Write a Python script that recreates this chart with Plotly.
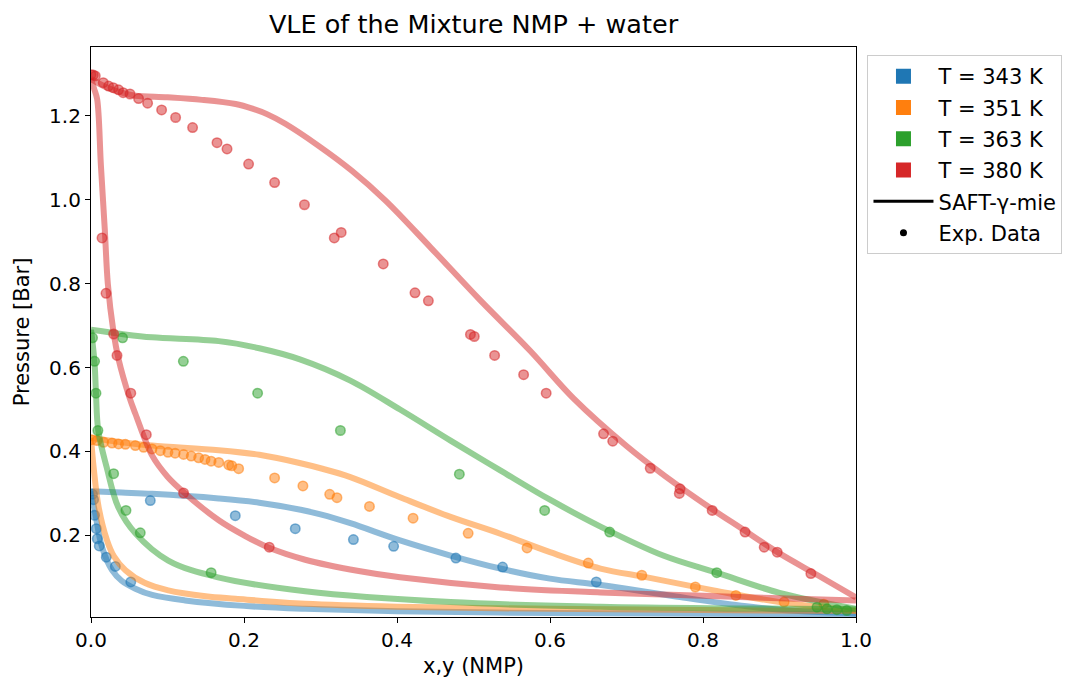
import plotly.graph_objects as go

# ---------------- data ----------------
temps = ["T = 343 K", "T = 351 K", "T = 363 K", "T = 380 K"]
colors = ["31,119,180", "255,127,14", "44,160,44", "214,39,40"]

# SAFT-gamma-mie model curves (bubble = upper branch, dew = lower branch)
blue_bub_x = [0, 0.04, 0.08, 0.167, 0.22, 0.274, 0.30, 0.339, 0.404, 0.47, 0.535, 0.6, 0.657, 0.7, 0.77, 0.857, 0.93, 1.0]
blue_bub_y = [0.305, 0.302, 0.299, 0.288, 0.278, 0.261, 0.25, 0.229, 0.188, 0.152, 0.121, 0.097, 0.084, 0.073, 0.053, 0.031, 0.019, 0.014]
blue_dew_x = [0, 0.002, 0.0056, 0.0144, 0.0275, 0.04, 0.058, 0.08, 0.123, 0.2, 0.28, 0.4, 0.6, 0.8, 1.0]
blue_dew_y = [0.305, 0.285, 0.252, 0.172, 0.117, 0.092, 0.073, 0.058, 0.045, 0.032, 0.025, 0.019, 0.015, 0.013, 0.012]

orange_bub_x = [0, 0.04, 0.08, 0.167, 0.22, 0.274, 0.30, 0.339, 0.404, 0.47, 0.535, 0.6, 0.666, 0.727, 0.814, 0.9, 1.0]
orange_bub_y = [0.432, 0.422, 0.414, 0.403, 0.392, 0.372, 0.36, 0.339, 0.291, 0.244, 0.204, 0.16, 0.121, 0.1, 0.069, 0.041, 0.021]
orange_dew_x = [0, 0.0015, 0.0034, 0.01, 0.021, 0.03, 0.045, 0.07, 0.101, 0.15, 0.189, 0.28, 0.4, 0.6, 0.8, 1.0]
orange_dew_y = [0.432, 0.40, 0.363, 0.267, 0.188, 0.15, 0.117, 0.087, 0.069, 0.055, 0.049, 0.037, 0.03, 0.025, 0.022, 0.02]

green_bub_x = [0, 0.04, 0.08, 0.167, 0.22, 0.274, 0.339, 0.404, 0.47, 0.535, 0.6, 0.666, 0.748, 0.818, 0.9, 1.0]
green_bub_y = [0.69, 0.68, 0.672, 0.663, 0.646, 0.619, 0.569, 0.500, 0.426, 0.355, 0.285, 0.221, 0.152, 0.111, 0.063, 0.025]
green_dew_x = [0, 0.002, 0.0047, 0.0065, 0.0095, 0.0204, 0.0357, 0.058, 0.101, 0.166, 0.28, 0.47, 0.666, 0.85, 1.0]
green_dew_y = [0.69, 0.66, 0.61, 0.54, 0.45, 0.363, 0.267, 0.205, 0.14, 0.10, 0.067, 0.041, 0.03, 0.026, 0.024]

red_bub_x = [0, 0.02, 0.04, 0.058, 0.1, 0.145, 0.189, 0.211, 0.23, 0.254, 0.297, 0.341, 0.385, 0.444, 0.509, 0.574, 0.631, 0.7, 0.75, 0.814, 0.85, 0.9, 0.95, 1.0]
red_bub_y = [1.288, 1.268, 1.255, 1.248, 1.244, 1.238, 1.228, 1.217, 1.204, 1.181, 1.129, 1.069, 0.998, 0.886, 0.76, 0.64, 0.526, 0.413, 0.342, 0.26, 0.217, 0.157, 0.105, 0.052]
red_dew_x = [0, 0.004, 0.008, 0.013, 0.018, 0.022, 0.029, 0.036, 0.05, 0.058, 0.08, 0.1, 0.123, 0.167, 0.2, 0.232, 0.28, 0.35, 0.404, 0.535, 0.666, 0.8, 0.9, 1.0]
red_dew_y = [1.288, 1.265, 1.24, 1.08, 0.93, 0.80, 0.69, 0.62, 0.53, 0.49, 0.39, 0.34, 0.30, 0.236, 0.20, 0.171, 0.142, 0.115, 0.10, 0.076, 0.064, 0.056, 0.05, 0.045]

# Experimental data
blue_x = [0.002, 0.0034, 0.0047, 0.0069, 0.0082, 0.0108, 0.02, 0.0318, 0.052, 0.0775, 0.1886, 0.267, 0.343, 0.3956, 0.477, 0.538, 0.6605]
blue_y = [0.298, 0.285, 0.248, 0.216, 0.192, 0.175, 0.148, 0.126, 0.089, 0.283, 0.247, 0.216, 0.190, 0.174, 0.146, 0.1245, 0.089]

orange_x = [0.001, 0.0078, 0.0165, 0.0275, 0.036, 0.045, 0.058, 0.0688, 0.0797, 0.0906, 0.1006, 0.110, 0.121, 0.131,
            0.1407, 0.149, 0.157, 0.167, 0.180, 0.184, 0.193, 0.240, 0.277, 0.312, 0.3215, 0.364, 0.421, 0.493, 0.570,
            0.650, 0.720, 0.790, 0.843, 0.906, 0.958]
orange_y = [0.428, 0.426, 0.422, 0.420, 0.418, 0.417, 0.414, 0.410, 0.406, 0.402, 0.398, 0.396, 0.393, 0.389,
            0.385, 0.381, 0.377, 0.374, 0.368, 0.366, 0.359, 0.337, 0.318, 0.298, 0.290, 0.269, 0.241, 0.205, 0.170,
            0.134, 0.105, 0.077, 0.057, 0.041, 0.036]

green_x = [0.002, 0.0047, 0.0065, 0.009, 0.0296, 0.0457, 0.0644, 0.157, 0.0413, 0.1207, 0.2178, 0.326, 0.4815,
           0.593, 0.678, 0.818, 0.949, 0.962, 0.975, 0.988]
green_y = [0.671, 0.615, 0.539, 0.45, 0.347, 0.2595, 0.206, 0.111, 0.671, 0.615, 0.539, 0.45, 0.346,
           0.2595, 0.208, 0.111, 0.029, 0.025, 0.023, 0.021]

red_x = [0.0, 0.003, 0.0056, 0.016, 0.023, 0.029, 0.036, 0.042, 0.051, 0.0622, 0.074, 0.0923, 0.1106, 0.1328,
         0.1647, 0.1778, 0.206, 0.240, 0.279, 0.318, 0.327, 0.382, 0.4235, 0.441, 0.496, 0.501, 0.5276, 0.5655,
         0.595, 0.670, 0.682, 0.731, 0.770, 0.769, 0.812, 0.855, 0.880, 0.897, 0.941,
         0.0144, 0.0196, 0.0296, 0.034, 0.052, 0.0723, 0.121, 0.233]
red_y = [1.298, 1.297, 1.295, 1.279, 1.271, 1.267, 1.262, 1.255, 1.252, 1.241, 1.230, 1.214, 1.196, 1.172,
         1.136, 1.121, 1.085, 1.041, 0.988, 0.909, 0.922, 0.847, 0.778, 0.759, 0.679, 0.674, 0.629, 0.583,
         0.539, 0.442, 0.4245, 0.360, 0.311, 0.300, 0.2595, 0.208, 0.172, 0.160, 0.109,
         0.909, 0.777, 0.680, 0.629, 0.539, 0.440, 0.301, 0.172]

curves = [
    (blue_bub_x, blue_bub_y, blue_dew_x, blue_dew_y),
    (orange_bub_x, orange_bub_y, orange_dew_x, orange_dew_y),
    (green_bub_x, green_bub_y, green_dew_x, green_dew_y),
    (red_bub_x, red_bub_y, red_dew_x, red_dew_y),
]
exps = [(blue_x, blue_y), (orange_x, orange_y), (green_x, green_y), (red_x, red_y)]

FONT = "DejaVu Sans"
fig = go.Figure()

for i, c in enumerate(colors):
    bx, by, dx, dy = curves[i]
    for xs, ys in ((bx, by), (dx, dy)):
        fig.add_trace(go.Scatter(x=xs, y=ys, mode="lines",
                                 line=dict(color=f"rgba({c},0.5)", width=6, shape="spline", smoothing=1.0),
                                 showlegend=False, hoverinfo="skip"))
    ex, ey = exps[i]
    fig.add_trace(go.Scatter(x=ex, y=ey, mode="markers",
                             marker=dict(size=9.5, color=f"rgba({c},0.5)",
                                         line=dict(color=f"rgba({c},0.55)", width=1.5)),
                             showlegend=False))

# legend entries
for i, c in enumerate(colors):
    fig.add_trace(go.Scatter(x=[None], y=[None], mode="markers", name=temps[i],
                             legendgroup=f"g{i}",
                             marker=dict(symbol="square", size=15, color=f"rgb({c})")))
fig.add_trace(go.Scatter(x=[None], y=[None], mode="lines", name="SAFT-γ-mie", legendgroup="g5",
                         line=dict(color="black", width=3)))
fig.add_trace(go.Scatter(x=[None], y=[None], mode="markers", name="Exp. Data", legendgroup="g6",
                         marker=dict(color="black", size=7)))

axis_common = dict(showline=True, linecolor="black", linewidth=1.2, mirror=True,
                   ticks="outside", ticklen=5, tickwidth=1.1, tickcolor="black",
                   showgrid=False, zeroline=False, tickformat=".1f", automargin=False,
                   tickfont=dict(family=FONT, size=20, color="black"))

fig.update_layout(
    width=1089, height=682,
    margin=dict(l=91, r=233, t=47, b=65, autoexpand=False),
    paper_bgcolor="white", plot_bgcolor="white",
    font=dict(family=FONT, size=20, color="black"),
    title=dict(text="VLE of the Mixture NMP + water", x=0.5, xref="paper",
               y=1 - 24 / 682, yref="container", yanchor="middle",
               font=dict(family=FONT, size=25.5, color="black")),
    xaxis=dict(range=[0, 1], tickvals=[0, 0.2, 0.4, 0.6, 0.8, 1.0],
               title=dict(text="x,y (NMP)", standoff=7, font=dict(family=FONT, size=21)),
               **axis_common),
    yaxis=dict(range=[0.0055, 1.364], tickvals=[0.2, 0.4, 0.6, 0.8, 1.0, 1.2],
               title=dict(text="Pressure [Bar]", standoff=13, font=dict(family=FONT, size=21)),
               **axis_common),
    legend=dict(x=1.015, y=0.986, xanchor="left", yanchor="top",
                bordercolor="#cccccc", borderwidth=1, bgcolor="white",
                traceorder="grouped", tracegroupgap=1, itemwidth=60,
                font=dict(family=FONT, size=21, color="black")),
)

fig.write_html("out.html")
